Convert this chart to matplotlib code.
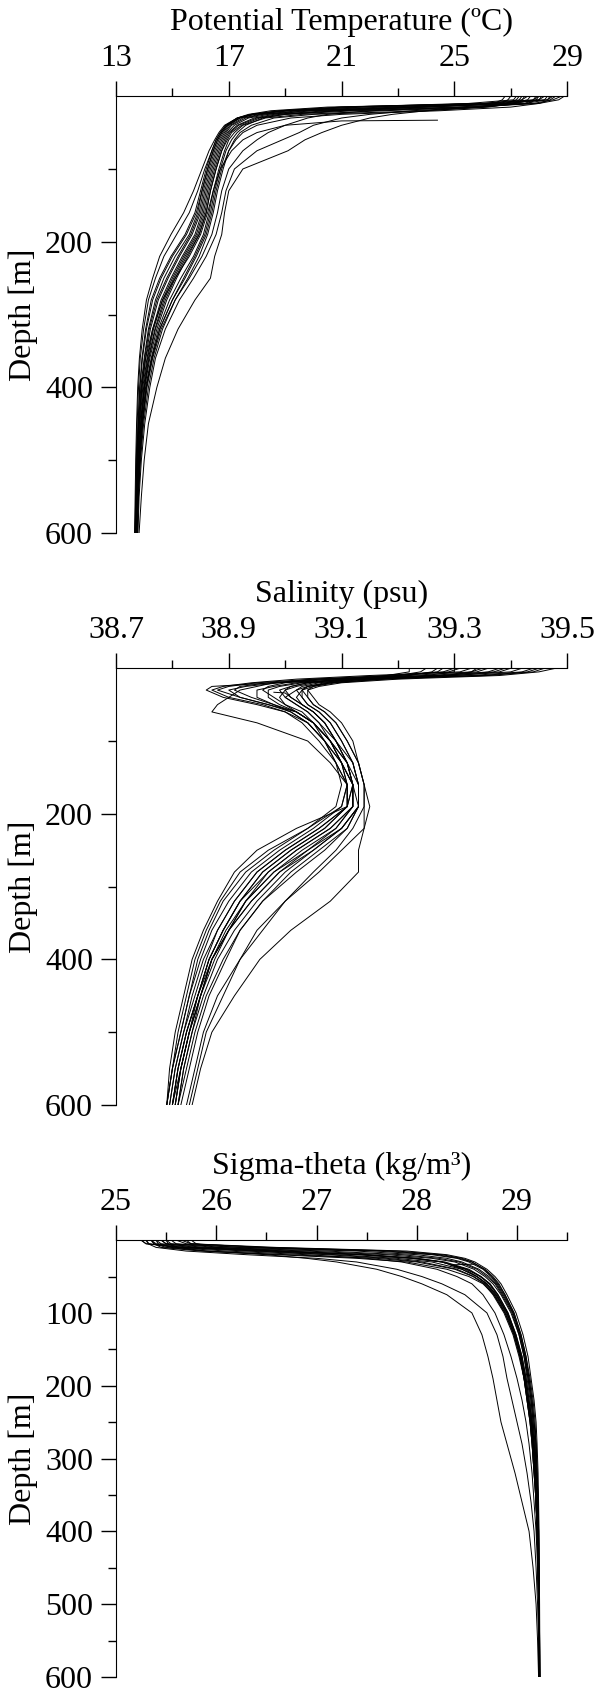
import matplotlib
matplotlib.use("Agg")
import matplotlib.pyplot as plt
from matplotlib.ticker import FixedLocator, FormatStrFormatter

plt.rcParams['font.family'] = 'serif'
plt.rcParams['font.serif'] = ['Liberation Serif', 'DejaVu Serif']

# depth levels (m) shared by all casts
depth = [0, 5, 10, 15, 20, 25, 30, 40, 50, 60, 75, 100, 130, 160, 190,
         220, 250, 280, 320, 360, 400, 450, 500, 550, 600]

# potential temperature (deg C), one row per cast
temperature = [
    [28.2, 28.0, 27.1, 23.5, 19.8, 18.2, 17.6, 17.1, 16.9, 16.75, 16.6, 16.4, 16.2, 16.05, 15.8, 15.35, 14.95, 14.6, 14.3, 14.1, 13.95, 13.85, 13.78, 13.74, 13.71],
    [27.6, 27.4, 26.0, 21.8, 19.0, 17.9, 17.4, 16.95, 16.75, 16.6, 16.45, 16.25, 16.05, 15.9, 15.6, 15.1, 14.7, 14.4, 14.15, 14.0, 13.88, 13.8, 13.75, 13.72, 13.69],
    [28.8, 28.5, 27.8, 25.0, 21.0, 18.8, 18.0, 17.35, 17.05, 16.9, 16.75, 16.55, 16.35, 16.2, 15.95, 15.55, 15.15, 14.8, 14.45, 14.2, 14.02, 13.9, 13.82, 13.76, 13.73],
    [27.9, 27.8, 27.5, 26.0, 22.5, 19.6, 18.3, 17.5, 17.2, 17.0, 16.85, 16.65, 16.45, 16.3, 16.1, 15.75, 15.3, 14.9, 14.5, 14.25, 14.05, 13.92, 13.83, 13.77, 13.74],
    [28.4, 28.3, 26.5, 20.5, 18.5, 17.7, 17.3, 16.9, 16.7, 16.55, 16.4, 16.2, 16.0, 15.8, 15.45, 14.95, 14.55, 14.25, 14.05, 13.92, 13.84, 13.78, 13.74, 13.71, 13.68],
    [27.3, 27.2, 26.8, 24.0, 20.5, 18.6, 17.9, 17.3, 17.0, 16.85, 16.7, 16.5, 16.3, 16.15, 15.9, 15.45, 15.05, 14.7, 14.38, 14.15, 14.0, 13.88, 13.8, 13.75, 13.72],
    [28.6, 28.4, 28.0, 27.0, 24.5, 21.0, 19.2, 18.0, 17.5, 17.25, 17.0, 16.8, 16.6, 16.45, 16.25, 15.95, 15.55, 15.1, 14.65, 14.35, 14.15, 13.98, 13.87, 13.8, 13.76],
    [27.0, 26.9, 26.7, 25.8, 24.0, 22.8, 22.0, 21.0, 20.3, 19.7, 19.1, 17.5, 17.0, 16.85, 16.75, 16.5, 16.35, 15.8, 15.2, 14.75, 14.45, 14.15, 14.0, 13.9, 13.82],
    [27.5, 27.4, 27.2, 26.0, 23.5, 22.0, 21.0, 20.0, 19.5, 18.9, 18.0, 17.2, 16.9, 16.75, 16.55, 16.2, 15.75, 15.25, 14.75, 14.4, 14.2, 14.02, 13.9, 13.82, 13.78],
    [28.0, 27.9, 27.6, 25.5, 22.0, 20.5, 19.8, 19.0, 18.4, 18.0, 17.5, 17.0, 16.75, 16.6, 16.4, 16.05, 15.6, 15.1, 14.6, 14.3, 14.1, 13.95, 13.85, 13.79, 13.75],
    [28.1, 28.0, 26.0, 21.0, 18.8, 17.8, 17.3, 16.9, 16.7, 16.55, 16.4, 16.15, 15.9, 15.6, 15.15, 14.7, 14.4, 14.15, 13.98, 13.86, 13.8, 13.75, 13.72, 13.7, 13.67],
    [27.7, 27.6, 27.0, 23.0, 19.5, 18.1, 17.5, 17.05, 16.85, 16.7, 16.55, 16.35, 16.15, 16.0, 15.7, 15.25, 14.85, 14.5, 14.22, 14.05, 13.92, 13.83, 13.77, 13.73, 13.7],
    [28.5, 28.3, 27.5, 24.0, 20.0, 18.4, 17.7, 17.2, 16.95, 16.8, 16.65, 16.45, 16.25, 16.1, 15.85, 15.4, 15.0, 14.65, 14.33, 14.12, 13.98, 13.87, 13.8, 13.75, 13.72],
    [26.8, 26.7, 26.4, 23.8, 20.8, 19.0, 18.2, 17.6, 17.3, 17.1, 16.9, 16.7, 16.5, 16.35, 16.15, 15.8, 15.4, 15.0, 14.55, 14.28, 14.08, 13.94, 13.84, 13.78, 13.74],
    [28.3, 28.2, 26.8, 22.5, 19.2, 17.9, 17.4, 17.0, 16.8, 16.65, 16.5, 16.3, 16.1, 15.95, 15.65, 15.2, 14.8, 14.45, 14.18, 14.02, 13.9, 13.82, 13.76, 13.72, 13.69],
    [27.4, 27.3, 27.1, 26.2, 24.0, 20.0, 18.6, 17.8, 17.4, 17.2, 17.0, 16.75, 16.55, 16.4, 16.2, 15.85, 15.45, 15.0, 14.55, 14.27, 14.07, 13.93, 13.84, 13.78, 13.74],
    [28.9, 28.7, 28.0, 25.5, 21.5, 19.0, 18.1, 17.45, 17.1, 16.95, 16.75, 16.55, 16.35, 16.2, 15.95, 15.5, 15.1, 14.75, 14.4, 14.17, 14.01, 13.89, 13.81, 13.76, 13.73],
    [27.2, 27.1, 25.5, 21.0, 18.9, 17.85, 17.35, 16.95, 16.75, 16.6, 16.45, 16.25, 16.05, 15.85, 15.5, 15.0, 14.6, 14.3, 14.08, 13.94, 13.85, 13.79, 13.74, 13.71, 13.68],
    [28.0, 27.8, 26.2, 21.5, 18.9, 17.8, 17.3, 16.85, 16.65, 16.5, 16.3, 16.05, 15.75, 15.4, 14.95, 14.55, 14.3, 14.08, 13.93, 13.83, 13.77, 13.73, 13.7, 13.68, 13.66],
]

# salinity (psu)
salinity = [
    [39.35, 39.33, 39.22, 39.10, 39.04, 39.01, 39.00, 39.01, 39.03, 39.05, 39.07, 39.09, 39.11, 39.12, 39.12, 39.09, 39.03, 38.98, 38.93, 38.90, 38.87, 38.85, 38.83, 38.815, 38.805],
    [39.42, 39.40, 39.30, 39.05, 38.95, 38.90, 38.88, 38.92, 38.97, 39.01, 39.04, 39.07, 39.10, 39.12, 39.13, 39.10, 39.05, 38.99, 38.94, 38.90, 38.87, 38.845, 38.825, 38.81, 38.80],
    [39.28, 39.27, 39.20, 39.12, 39.06, 39.03, 39.02, 39.03, 39.04, 39.06, 39.08, 39.10, 39.12, 39.13, 39.13, 39.11, 39.07, 39.02, 38.96, 38.92, 38.89, 38.86, 38.84, 38.825, 38.81],
    [39.45, 39.43, 39.35, 39.15, 38.98, 38.87, 38.86, 38.89, 38.95, 39.00, 39.03, 39.06, 39.09, 39.11, 39.10, 39.05, 38.99, 38.94, 38.90, 38.87, 38.85, 38.83, 38.815, 38.80, 38.79],
    [39.30, 39.30, 39.25, 39.16, 39.08, 39.04, 39.02, 39.00, 39.02, 39.04, 39.06, 39.08, 39.10, 39.11, 39.11, 39.07, 39.01, 38.96, 38.92, 38.89, 38.865, 38.845, 38.825, 38.81, 38.80],
    [39.38, 39.36, 39.28, 39.08, 39.00, 38.97, 38.96, 38.98, 39.00, 39.03, 39.05, 39.07, 39.09, 39.10, 39.09, 39.04, 38.98, 38.93, 38.89, 38.865, 38.845, 38.83, 38.815, 38.80, 38.79],
    [39.48, 39.45, 39.38, 39.20, 39.10, 39.06, 39.04, 39.04, 39.05, 39.07, 39.09, 39.11, 39.13, 39.14, 39.14, 39.14, 39.13, 39.13, 39.08, 39.01, 38.955, 38.91, 38.87, 38.85, 38.835],
    [39.25, 39.24, 39.20, 39.13, 39.07, 39.04, 39.03, 39.04, 39.05, 39.07, 39.09, 39.11, 39.13, 39.14, 39.14, 39.12, 39.09, 39.05, 39.00, 38.96, 38.92, 38.88, 38.855, 38.84, 38.825],
    [39.33, 39.31, 39.15, 39.02, 38.94, 38.89, 38.87, 38.90, 38.96, 39.00, 39.04, 39.07, 39.10, 39.12, 39.11, 39.06, 39.00, 38.95, 38.91, 38.88, 38.86, 38.84, 38.82, 38.805, 38.795],
    [39.40, 39.38, 39.30, 39.14, 39.05, 39.02, 39.00, 38.99, 39.00, 39.02, 39.05, 39.08, 39.11, 39.12, 39.11, 39.02, 38.95, 38.91, 38.88, 38.855, 38.835, 38.82, 38.805, 38.795, 38.79],
    [39.22, 39.22, 39.18, 39.10, 39.04, 39.01, 38.99, 39.00, 39.02, 39.04, 39.06, 39.09, 39.11, 39.13, 39.13, 39.10, 39.05, 39.00, 38.95, 38.91, 38.88, 38.855, 38.835, 38.82, 38.81],
    [39.36, 39.34, 39.26, 39.11, 39.03, 38.99, 38.97, 38.97, 38.99, 39.02, 39.05, 39.08, 39.10, 39.12, 39.12, 39.08, 39.02, 38.97, 38.92, 38.89, 38.865, 38.845, 38.83, 38.815, 38.80],
    [39.44, 39.42, 39.33, 39.18, 39.08, 39.04, 39.03, 39.03, 39.04, 39.06, 39.08, 39.10, 39.12, 39.13, 39.13, 39.11, 39.06, 39.01, 38.96, 38.92, 38.895, 38.865, 38.845, 38.83, 38.815],
    [39.31, 39.29, 39.20, 39.06, 38.99, 38.93, 38.90, 38.92, 38.97, 39.02, 39.05, 39.08, 39.11, 39.12, 39.12, 39.09, 39.04, 38.98, 38.93, 38.895, 38.87, 38.85, 38.83, 38.815, 38.805],
    [39.27, 39.26, 39.22, 39.14, 39.08, 39.05, 39.04, 39.05, 39.06, 39.08, 39.10, 39.12, 39.13, 39.14, 39.15, 39.14, 39.10, 39.06, 39.00, 38.95, 38.92, 38.89, 38.86, 38.845, 38.83],
    [39.39, 39.37, 39.27, 39.09, 38.97, 38.92, 38.91, 38.94, 38.98, 39.02, 39.05, 39.08, 39.10, 39.11, 39.10, 39.04, 38.97, 38.92, 38.885, 38.86, 38.84, 38.825, 38.81, 38.80, 38.79],
    [39.34, 39.33, 39.29, 39.17, 39.09, 39.05, 39.03, 39.02, 39.03, 39.05, 39.07, 39.09, 39.12, 39.13, 39.13, 39.10, 39.04, 38.99, 38.94, 38.90, 38.875, 38.85, 38.835, 38.82, 38.81],
    [39.46, 39.44, 39.36, 39.12, 39.02, 38.98, 38.95, 38.95, 38.98, 39.01, 39.04, 39.07, 39.09, 39.11, 39.11, 39.06, 39.00, 38.95, 38.91, 38.88, 38.855, 38.835, 38.82, 38.805, 38.795],
    [39.30, 39.28, 39.18, 39.05, 38.98, 38.95, 38.92, 38.90, 38.88, 38.87, 38.95, 39.04, 39.08, 39.11, 39.11, 39.07, 39.01, 38.96, 38.92, 38.89, 38.865, 38.845, 38.825, 38.81, 38.80],
]

# sigma-theta (kg/m3)
sigma = [
    [25.40, 25.45, 25.90, 26.90, 27.70, 28.15, 28.38, 28.57, 28.68, 28.76, 28.84, 28.94, 29.02, 29.07, 29.10, 29.13, 29.15, 29.17, 29.19, 29.20, 29.21, 29.215, 29.22, 29.22, 29.225],
    [25.55, 25.60, 26.20, 27.40, 28.00, 28.30, 28.45, 28.62, 28.72, 28.79, 28.86, 28.96, 29.03, 29.08, 29.11, 29.14, 29.16, 29.18, 29.19, 29.20, 29.21, 29.215, 29.22, 29.222, 29.225],
    [25.25, 25.30, 25.70, 26.40, 27.20, 27.80, 28.15, 28.45, 28.60, 28.70, 28.79, 28.90, 28.98, 29.04, 29.08, 29.11, 29.14, 29.16, 29.18, 29.19, 29.20, 29.21, 29.215, 29.22, 29.22],
    [25.35, 25.38, 25.50, 25.90, 26.60, 27.40, 27.90, 28.30, 28.52, 28.66, 28.77, 28.88, 28.97, 29.03, 29.07, 29.10, 29.13, 29.15, 29.17, 29.19, 29.20, 29.21, 29.215, 29.22, 29.22],
    [25.60, 25.70, 26.50, 27.80, 28.25, 28.45, 28.55, 28.68, 28.76, 28.82, 28.88, 28.97, 29.04, 29.09, 29.12, 29.15, 29.17, 29.19, 29.20, 29.21, 29.215, 29.22, 29.222, 29.225, 29.228],
    [25.45, 25.50, 25.80, 26.60, 27.50, 28.00, 28.28, 28.52, 28.64, 28.73, 28.81, 28.91, 28.99, 29.05, 29.09, 29.12, 29.15, 29.17, 29.19, 29.20, 29.21, 29.215, 29.22, 29.222, 29.224],
    [25.30, 25.32, 25.40, 25.70, 26.30, 27.00, 27.40, 27.80, 28.05, 28.25, 28.48, 28.70, 28.80, 28.86, 28.90, 28.95, 29.00, 29.05, 29.10, 29.14, 29.17, 29.19, 29.205, 29.215, 29.22],
    [25.50, 25.52, 25.60, 25.90, 26.50, 26.90, 27.20, 27.60, 27.85, 28.05, 28.30, 28.55, 28.65, 28.71, 28.76, 28.80, 28.84, 28.90, 28.98, 29.05, 29.12, 29.16, 29.19, 29.205, 29.215],
    [25.40, 25.42, 25.55, 26.10, 26.90, 27.50, 27.85, 28.20, 28.40, 28.55, 28.66, 28.78, 28.87, 28.94, 29.00, 29.05, 29.09, 29.12, 29.15, 29.17, 29.19, 29.205, 29.215, 29.22, 29.22],
    [25.65, 25.75, 26.60, 27.90, 28.30, 28.48, 28.58, 28.70, 28.78, 28.84, 28.90, 28.99, 29.06, 29.11, 29.14, 29.17, 29.19, 29.20, 29.21, 29.215, 29.22, 29.222, 29.225, 29.227, 29.23],
    [25.35, 25.40, 25.75, 26.60, 27.45, 27.95, 28.25, 28.50, 28.63, 28.72, 28.80, 28.90, 28.98, 29.04, 29.08, 29.11, 29.14, 29.16, 29.18, 29.19, 29.20, 29.21, 29.215, 29.22, 29.22],
    [25.50, 25.55, 26.00, 27.10, 27.85, 28.22, 28.42, 28.60, 28.70, 28.78, 28.85, 28.95, 29.02, 29.07, 29.11, 29.14, 29.16, 29.18, 29.19, 29.20, 29.21, 29.215, 29.22, 29.222, 29.225],
    [25.30, 25.33, 25.60, 26.30, 27.10, 27.70, 28.05, 28.40, 28.57, 28.68, 28.77, 28.88, 28.97, 29.03, 29.07, 29.10, 29.13, 29.15, 29.17, 29.19, 29.20, 29.21, 29.215, 29.22, 29.22],
    [25.75, 25.80, 26.00, 26.70, 27.50, 28.00, 28.25, 28.48, 28.60, 28.69, 28.78, 28.89, 28.97, 29.03, 29.07, 29.11, 29.14, 29.16, 29.18, 29.19, 29.20, 29.21, 29.215, 29.22, 29.222],
    [25.45, 25.50, 26.30, 27.60, 28.15, 28.40, 28.52, 28.66, 28.74, 28.80, 28.87, 28.96, 29.03, 29.08, 29.12, 29.15, 29.17, 29.19, 29.20, 29.21, 29.215, 29.22, 29.222, 29.225, 29.228],
    [25.35, 25.38, 25.45, 25.85, 26.70, 27.60, 28.00, 28.38, 28.56, 28.67, 28.76, 28.87, 28.96, 29.02, 29.07, 29.10, 29.13, 29.15, 29.17, 29.19, 29.20, 29.21, 29.215, 29.22, 29.22],
    [25.25, 25.30, 25.65, 26.50, 27.40, 27.95, 28.25, 28.50, 28.64, 28.73, 28.81, 28.91, 28.99, 29.05, 29.09, 29.12, 29.15, 29.17, 29.19, 29.20, 29.21, 29.215, 29.22, 29.222, 29.225],
    [25.70, 25.75, 26.45, 27.70, 28.20, 28.42, 28.55, 28.67, 28.75, 28.81, 28.88, 28.97, 29.04, 29.09, 29.13, 29.16, 29.18, 29.19, 29.20, 29.21, 29.215, 29.22, 29.222, 29.225, 29.228],
]

# one cast whose record starts at ~33 m
short_depth = [33, 34, 40, 50, 60, 75, 100, 130, 160, 190, 220, 250, 280, 320, 360, 400, 450, 500, 550, 600]
short_temperature = [24.4, 21.0, 19.0, 18.0, 17.5, 17.1, 16.7, 16.45, 16.25, 16.0, 15.6, 15.1, 14.65, 14.3, 14.05, 13.92, 13.82, 13.77, 13.73, 13.7]
short_salinity = [38.98, 39.0, 39.01, 39.03, 39.05, 39.07, 39.09, 39.11, 39.12, 39.12, 39.08, 39.02, 38.97, 38.93, 38.90, 38.87, 38.85, 38.83, 38.815, 38.805]
short_sigma = [28.58, 28.33, 28.45, 28.6, 28.7, 28.79, 28.9, 28.98, 29.04, 29.08, 29.11, 29.14, 29.16, 29.18, 29.19, 29.2, 29.21, 29.215, 29.22, 29.222]

panels = [
    {'title': 'Potential Temperature (ºC)', 'casts': temperature, 'short': short_temperature,
     'xlim': (13, 29), 'major': [13, 17, 21, 25, 29], 'minor': [15, 19, 23, 27],
     'ymajor': [200, 400, 600], 'yminor': [100, 300, 500], 'fmt': '%g'},
    {'title': 'Salinity (psu)', 'casts': salinity, 'short': short_salinity,
     'xlim': (38.7, 39.5), 'major': [38.7, 38.9, 39.1, 39.3, 39.5], 'minor': [38.8, 39.0, 39.2, 39.4],
     'ymajor': [200, 400, 600], 'yminor': [100, 300, 500], 'fmt': '%.1f'},
    {'title': 'Sigma-theta (kg/m³)', 'casts': sigma, 'short': short_sigma,
     'xlim': (25, 29.5), 'major': [25, 26, 27, 28, 29], 'minor': [25.5, 26.5, 27.5, 28.5, 29.5],
     'ymajor': [100, 200, 300, 400, 500, 600], 'yminor': [50, 150, 250, 350, 450, 550], 'fmt': '%g'},
]

fs = 23

fig = plt.figure(figsize=(5.96, 16.93), dpi=100)
bottoms = [0.6852, 0.3473, 0.0095]
for p, b in zip(panels, bottoms):
    ax = fig.add_axes([0.1946, b, 0.757, 0.258])
    for cast in p['casts']:
        ax.plot(cast, depth, color='black', lw=0.7)
    ax.plot(p['short'], short_depth, color='black', lw=0.7)

    ax.set_xlim(*p['xlim'])
    ax.set_ylim(600, 0)
    ax.xaxis.tick_top()
    ax.xaxis.set_label_position('top')
    ax.spines['bottom'].set_visible(False)
    ax.spines['right'].set_visible(False)
    ax.xaxis.set_major_locator(FixedLocator(p['major']))
    ax.xaxis.set_minor_locator(FixedLocator(p['minor']))
    ax.xaxis.set_major_formatter(FormatStrFormatter(p['fmt']))
    ax.yaxis.set_major_locator(FixedLocator(p['ymajor']))
    ax.yaxis.set_minor_locator(FixedLocator(p['yminor']))
    ax.tick_params(which='major', direction='out', length=10.5, width=1, labelsize=fs, pad=6)
    ax.tick_params(which='minor', direction='out', length=6, width=1)
    ax.set_xlabel(p['title'], fontsize=fs, labelpad=10)
    ax.set_ylabel('Depth [m]', fontsize=fs)
    ax.yaxis.set_label_coords(-0.172, 0.5)

fig.savefig('out.png', dpi=100)
